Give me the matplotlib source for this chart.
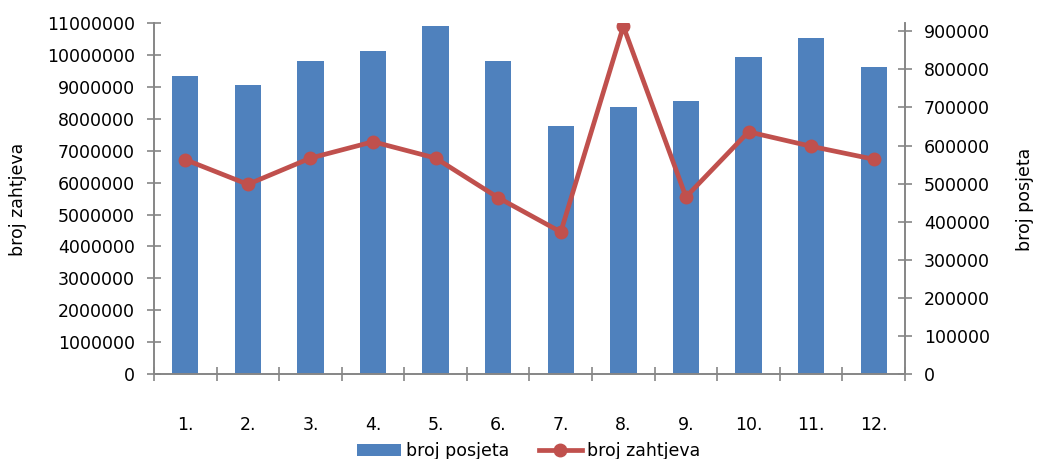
import numpy as np
import matplotlib.pyplot as plt
from matplotlib.ticker import FixedLocator, MultipleLocator

# Mjesecni podaci
mjeseci = ['1.', '2.', '3.', '4.', '5.', '6.', '7.', '8.', '9.', '10.', '11.', '12.']
broj_posjeta = [9350000, 9050000, 9820000, 10130000, 10920000, 9820000,
                7770000, 8390000, 8550000, 9930000, 10540000, 9620000]
broj_zahtjeva = [563000, 498000, 567000, 610000, 567000, 463000,
                 373000, 913000, 465000, 636000, 598000, 564000]

plavo = '#4F81BD'
crveno = '#C0504D'
siva = '#868686'
fs = 12.5

plt.rcParams['font.family'] = ['DejaVu Sans']

fig = plt.figure(figsize=(10.37, 4.59), dpi=100)
ax = fig.add_axes([0.1485, 0.1852, 0.7242, 0.764])
ax2 = ax.twinx()

x = np.arange(len(mjeseci))
b = ax.bar(x, broj_posjeta, width=0.42, color=plavo, label='broj posjeta', zorder=2)
l, = ax2.plot(x, broj_zahtjeva, color=crveno, lw=3.4, marker='o', markersize=9,
              label='broj zahtjeva', zorder=3)

ax.set_xlim(-0.5, len(mjeseci) - 0.5)
ax.set_ylim(0, 11000000)
ax2.set_ylim(0, 921000)
ax.yaxis.set_major_locator(MultipleLocator(1000000))
ax2.yaxis.set_major_locator(FixedLocator(np.arange(0, 900001, 100000)))

ax.set_xticks(x)
ax.set_xticklabels(mjeseci, fontsize=fs)
ax.tick_params(axis='x', which='major', length=0, pad=30)
ax.xaxis.set_minor_locator(FixedLocator(np.arange(-0.5, len(mjeseci), 1.0)))
ax.tick_params(axis='x', which='minor', direction='inout', length=9.5, color=siva, width=1.2)

ax.tick_params(axis='y', direction='inout', length=9.5, color=siva, width=1.2, labelsize=fs, pad=9)
ax2.tick_params(axis='y', direction='inout', length=9.5, color=siva, width=1.2, labelsize=fs, pad=9)
ax.ticklabel_format(axis='y', style='plain', useOffset=False)
ax2.ticklabel_format(axis='y', style='plain', useOffset=False)

for a in (ax, ax2):
    a.spines['top'].set_visible(False)
    for s in ('left', 'right', 'bottom'):
        a.spines[s].set_color(siva)
        a.spines[s].set_linewidth(1.2)

fig.text(18 / 1037, 0.565, 'broj zahtjeva', rotation=90, ha='center', va='center', fontsize=fs)
fig.text(1025 / 1037, 0.565, 'broj posjeta', rotation=90, ha='center', va='center', fontsize=fs)

fig.legend(handles=[b, l], loc='center', bbox_to_anchor=(0.51, 0.017), ncol=2,
           frameon=False, fontsize=fs, handlelength=2.5, columnspacing=1.7, handletextpad=0.3)

fig.savefig('out.png', dpi=100)
